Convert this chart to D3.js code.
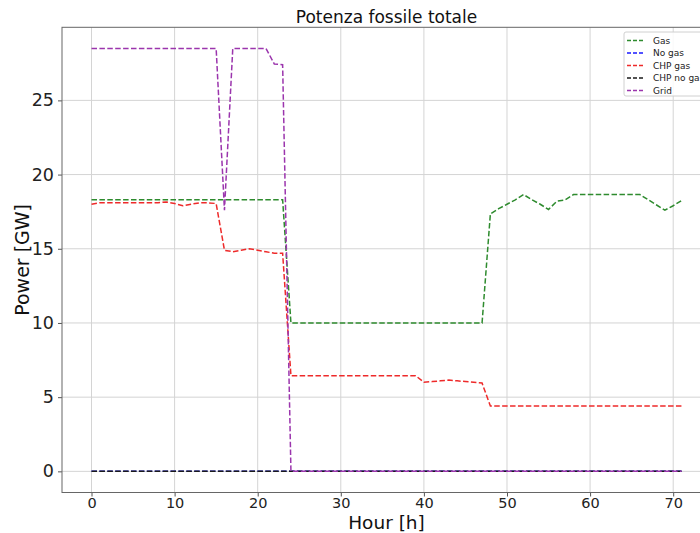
<!DOCTYPE html>
<html>
<head>
<meta charset="utf-8">
<script src="https://cdn.jsdelivr.net/npm/d3@7"></script>
<style>
  html, body { margin: 0; padding: 0; background: #fff; }
  svg { display: block; font-family: "DejaVu Sans", sans-serif; }
</style>
</head>
<body>
<svg id="chart" width="700" height="533"></svg>
<script>
// Hours of the simulated period
const hours = d3.range(72);

// Fossil power per scenario [GW]
const gas = [
  18.3, 18.3, 18.3, 18.3, 18.3, 18.3, 18.3, 18.3, 18.3, 18.3, 18.3, 18.3,
  18.3, 18.3, 18.3, 18.3, 18.3, 18.3, 18.3, 18.3, 18.3, 18.3, 18.3, 18.3,
  10.0, 10.0, 10.0, 10.0, 10.0, 10.0, 10.0, 10.0, 10.0, 10.0, 10.0, 10.0,
  10.0, 10.0, 10.0, 10.0, 10.0, 10.0, 10.0, 10.0, 10.0, 10.0, 10.0, 10.0,
  17.35, 17.7, 18.0, 18.3, 18.65, 18.3, 18.0, 17.65, 18.2, 18.3, 18.65, 18.65,
  18.65, 18.65, 18.65, 18.65, 18.65, 18.65, 18.65, 18.3, 17.95, 17.6, 17.9, 18.25
];
const noGas = [
  0, 0, 0, 0, 0, 0, 0, 0, 0, 0, 0, 0, 0, 0, 0, 0, 0, 0, 0, 0, 0, 0, 0, 0,
  0, 0, 0, 0, 0, 0, 0, 0, 0, 0, 0, 0, 0, 0, 0, 0, 0, 0, 0, 0, 0, 0, 0, 0,
  0, 0, 0, 0, 0, 0, 0, 0, 0, 0, 0, 0, 0, 0, 0, 0, 0, 0, 0, 0, 0, 0, 0, 0
];
const chpGas = [
  18.0, 18.1, 18.1, 18.1, 18.1, 18.1, 18.1, 18.1, 18.1, 18.15, 18.05, 17.9,
  18.0, 18.1, 18.1, 18.05, 14.9, 14.8, 14.9, 15.0, 14.9, 14.8, 14.7, 14.7,
  6.45, 6.45, 6.45, 6.45, 6.45, 6.45, 6.45, 6.45, 6.45, 6.45, 6.45, 6.45,
  6.45, 6.45, 6.45, 6.45, 6.0, 6.05, 6.1, 6.15, 6.1, 6.05, 6.0, 5.95,
  4.4, 4.4, 4.4, 4.4, 4.4, 4.4, 4.4, 4.4, 4.4, 4.4, 4.4, 4.4,
  4.4, 4.4, 4.4, 4.4, 4.4, 4.4, 4.4, 4.4, 4.4, 4.4, 4.4, 4.4
];
const chpNoGas = [
  0, 0, 0, 0, 0, 0, 0, 0, 0, 0, 0, 0, 0, 0, 0, 0, 0, 0, 0, 0, 0, 0, 0, 0,
  0, 0, 0, 0, 0, 0, 0, 0, 0, 0, 0, 0, 0, 0, 0, 0, 0, 0, 0, 0, 0, 0, 0, 0,
  0, 0, 0, 0, 0, 0, 0, 0, 0, 0, 0, 0, 0, 0, 0, 0, 0, 0, 0, 0, 0, 0, 0, 0
];
const grid = [
  28.5, 28.5, 28.5, 28.5, 28.5, 28.5, 28.5, 28.5, 28.5, 28.5, 28.5, 28.5,
  28.5, 28.5, 28.5, 28.5, 17.6, 28.5, 28.5, 28.5, 28.5, 28.5, 27.45, 27.4,
  0, 0, 0, 0, 0, 0, 0, 0, 0, 0, 0, 0, 0, 0, 0, 0, 0, 0, 0, 0, 0, 0, 0, 0,
  0, 0, 0, 0, 0, 0, 0, 0, 0, 0, 0, 0, 0, 0, 0, 0, 0, 0, 0, 0, 0, 0, 0, 0
];

const seriesNames = ["Gas", "No gas", "CHP gas", "CHP no gas", "Grid"];
const seriesValues = [gas, noGas, chpGas, chpNoGas, grid];
const seriesColors = ["#2e8b2e", "#1a1aff", "#ee2a2a", "#1a1a1a", "#9b35ad"];

const xTicks = [0, 10, 20, 30, 40, 50, 60, 70];
const yTicks = [0, 5, 10, 15, 20, 25];

const svg = d3.select("#chart");
const plot = { left: 62, right: 711, top: 27.3, bottom: 492.5 };

const x = d3.scaleLinear().domain([-3.55, 74.55]).range([plot.left, plot.right]);
const y = d3.scaleLinear().domain([-1.425, 29.925]).range([plot.bottom, plot.top]);

// grid lines
const gridG = svg.append("g");
gridG.selectAll("line.vx").data(xTicks).join("line")
  .attr("x1", d => x(d)).attr("x2", d => x(d))
  .attr("y1", plot.top).attr("y2", plot.bottom)
  .attr("stroke", "#d4d4d4").attr("stroke-width", 1);
gridG.selectAll("line.hy").data(yTicks).join("line")
  .attr("x1", plot.left).attr("x2", plot.right)
  .attr("y1", d => y(d)).attr("y2", d => y(d))
  .attr("stroke", "#d4d4d4").attr("stroke-width", 1);

// axes
const xAxis = svg.append("g")
  .attr("transform", `translate(0,${plot.bottom})`)
  .call(d3.axisBottom(x).tickValues(xTicks).tickSize(4).tickPadding(1.5));
xAxis.selectAll("text").attr("font-size", 14.5).attr("fill", "#222")
  .attr("font-family", "DejaVu Sans");
const yAxis = svg.append("g")
  .attr("transform", `translate(${plot.left},0)`)
  .call(d3.axisLeft(y).tickValues(yTicks).tickSize(4).tickPadding(4));
yAxis.selectAll("text").attr("font-size", 17.5).attr("fill", "#222")
  .attr("font-family", "DejaVu Sans");
[xAxis, yAxis].forEach(a => {
  a.select(".domain").remove();
  a.selectAll(".tick line").attr("stroke", "#555");
});

// frame
svg.append("rect")
  .attr("x", plot.left).attr("y", plot.top)
  .attr("width", plot.right - plot.left).attr("height", plot.bottom - plot.top)
  .attr("fill", "none").attr("stroke", "#666").attr("stroke-width", 1);

// series lines
const line = d3.line().x((d, i) => x(hours[i])).y(d => y(d));
seriesValues.forEach((vals, k) => {
  svg.append("path")
    .datum(vals)
    .attr("d", line)
    .attr("fill", "none")
    .attr("stroke", seriesColors[k])
    .attr("stroke-width", 1.5)
    .attr("stroke-dasharray", "5.5,2.4");
});

// titles
svg.append("text")
  .attr("x", (plot.left + plot.right) / 2).attr("y", 23)
  .attr("text-anchor", "middle").attr("font-size", 17).attr("fill", "#111")
  .text("Potenza fossile totale");
svg.append("text")
  .attr("x", (plot.left + plot.right) / 2).attr("y", 529)
  .attr("text-anchor", "middle").attr("font-size", 18.5).attr("fill", "#111")
  .text("Hour [h]");
svg.append("text")
  .attr("transform", `translate(29,${(plot.top + plot.bottom) / 2}) rotate(-90)`)
  .attr("text-anchor", "middle").attr("font-size", 19).attr("fill", "#111")
  .text("Power [GW]");

// legend
const lg = svg.append("g").attr("transform", "translate(624,32)");
lg.append("rect")
  .attr("width", 90).attr("height", 64).attr("rx", 2)
  .attr("fill", "#fff").attr("fill-opacity", 0.85)
  .attr("stroke", "#d0d0d0");
seriesNames.forEach((name, k) => {
  const cy = 8.5 + k * 12.5;
  lg.append("line")
    .attr("x1", 3).attr("x2", 20).attr("y1", cy).attr("y2", cy)
    .attr("stroke", seriesColors[k]).attr("stroke-width", 1.5)
    .attr("stroke-dasharray", "4,2");
  lg.append("text")
    .attr("x", 29).attr("y", cy).attr("dy", "0.35em")
    .attr("font-size", 9).attr("fill", "#222")
    .text(name);
});
</script>
</body>
</html>
